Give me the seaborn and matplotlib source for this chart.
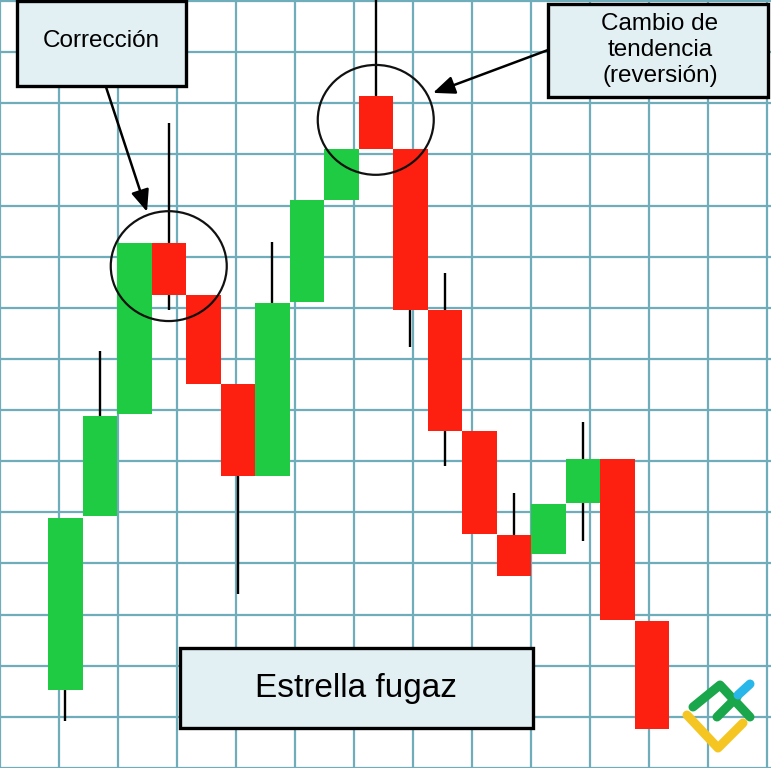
import numpy as np
import matplotlib
matplotlib.use("Agg")
import matplotlib.pyplot as plt
from matplotlib.patches import Ellipse, Rectangle
import seaborn as sns

# candle values, price units (one grid square = 10)
candle_open = [15.2, 49.2, 69.3, 102.7, 92.6, 75.0, 57.2, 91.2, 111.1,
               131.4, 121.1, 89.5, 66.0, 45.5, 41.8, 51.8, 60.4, 28.7]
candle_close = [48.8, 68.9, 102.7, 92.6, 75.0, 57.2, 91.0, 111.1, 121.1,
                121.1, 89.6, 66.0, 45.7, 37.5, 51.6, 60.4, 28.9, 7.6]
candle_high = [48.8, 81.6, 102.7, 126.2, 92.6, 75.0, 102.9, 111.1, 121.1,
               152.0, 121.1, 96.9, 66.0, 53.7, 51.6, 67.6, 60.4, 28.7]
candle_low = [9.2, 49.2, 69.3, 89.5, 75.0, 34.0, 57.2, 91.2, 111.1,
              121.1, 82.4, 59.0, 45.7, 37.5, 41.8, 44.3, 28.9, 7.6]

# candles picked out with a circle and a callout
marked = [3, 9]
callouts = ["Corrección", "Cambio de\ntendencia\n(reversión)"]
pattern_name = "Estrella fugaz"

GREEN = "#1ecb42"
RED = "#fd2010"
GRID = "#6fadba"
BOX = "#e2f0f3"

W, H = 771, 768


def frac(px, py):
    # picture pixels (top-left origin) -> axes fraction
    return px / W, 1 - py / H


def main():
    sns.set_theme(style="whitegrid", rc={
        "grid.color": GRID,
        "grid.linewidth": 1.6,
        "axes.edgecolor": "none",
        "axes.facecolor": "white",
        "text.color": "black",
    })
    plt.rcParams["font.family"] = ["Liberation Sans", "DejaVu Sans"]

    fig = plt.figure(figsize=(W / 100, H / 100), dpi=100)
    ax = fig.add_axes([0, 0, 1, 1])

    o = np.array(candle_open)
    c = np.array(candle_close)
    x = np.arange(len(o))
    colors = [GREEN if cc > oo else RED for oo, cc in zip(o, c)]

    ax.vlines(x, candle_low, candle_high, color="black", lw=1.7, zorder=2)
    ax.bar(x, c - o, bottom=o, width=1.0, color=colors, linewidth=0, zorder=3)

    # one candle = 34.5 px, first candle starts at 48 px; 5.12 px per price unit
    ax.set_xlim(-48 / 34.5 - 0.5, (W - 48) / 34.5 - 0.5)
    ax.set_ylim((769 - H) / 5.12, 769 / 5.12)
    ax.set_yticks(np.arange(0, 151, 10))
    ax.set_xticks(-48 / 34.5 - 0.5 + np.arange(0, 14) * 59 / 34.5)
    ax.tick_params(length=0, labelbottom=False, labelleft=False)
    ax.set_axisbelow(True)
    for s in ax.spines.values():
        s.set_visible(False)

    # circles round the marked candles
    for i in marked:
        mid = (candle_open[i] + candle_close[i]) / 2
        ax.add_patch(Ellipse((i, mid + 0.5), 116 / 34.5, 110 / 5.12,
                             fill=False, ec="#111111", lw=1.6, zorder=4))

    # callout boxes
    boxes = [(17, 1, 186, 86), (548, 4, 768, 97), (180, 648, 533, 728)]
    for x0, y0, x1, y1 in boxes:
        fx0, fy1 = frac(x0, y1)
        ax.add_patch(Rectangle((fx0, fy1), (x1 - x0) / W, (y1 - y0) / H,
                               transform=ax.transAxes, fc=BOX, ec="black",
                               lw=2.4, zorder=5, clip_on=False))

    ax.text(*frac(101, 41), callouts[0], transform=ax.transAxes, ha="center",
            va="center", fontsize=17.5, color="black", zorder=6)
    ax.text(*frac(660, 50), callouts[1], transform=ax.transAxes, ha="center",
            va="center", fontsize=17.5, linespacing=1.22, color="black",
            zorder=6)
    ax.text(*frac(356, 688), pattern_name, transform=ax.transAxes,
            ha="center", va="center", fontsize=24, color="black", zorder=6)

    # arrows from the boxes to the circles
    arrow = dict(arrowstyle="-|>,head_length=0.6,head_width=0.25",
                 mutation_scale=22, color="black", lw=1.8,
                 shrinkA=0, shrinkB=0)
    ax.annotate("", xy=((147 - 48) / 34.5 - 0.5, (769 - 212) / 5.12),
                xytext=frac(106, 87), textcoords="axes fraction",
                arrowprops=arrow, zorder=6)
    ax.annotate("", xy=((433 - 48) / 34.5 - 0.5, (769 - 93) / 5.12),
                xytext=frac(548, 50), textcoords="axes fraction",
                arrowprops=arrow, zorder=6)

    # small logo, bottom right
    logo = [
        ([(693, 707), (720, 685), (750, 717)], "#1aa64a"),
        ([(717, 717), (737, 697)], "#1aa64a"),
        ([(738, 695), (750, 684)], "#29b6e8"),
        ([(687, 715), (718, 748), (743, 723)], "#f5c622"),
    ]
    for pts, col in logo:
        fx, fy = zip(*[frac(px, py) for px, py in pts])
        ax.plot(fx, fy, color=col, lw=6.5, solid_capstyle="round",
                solid_joinstyle="round", transform=ax.transAxes, zorder=7)

    fig.savefig("out.png", dpi=100)


if __name__ == "__main__":
    main()
